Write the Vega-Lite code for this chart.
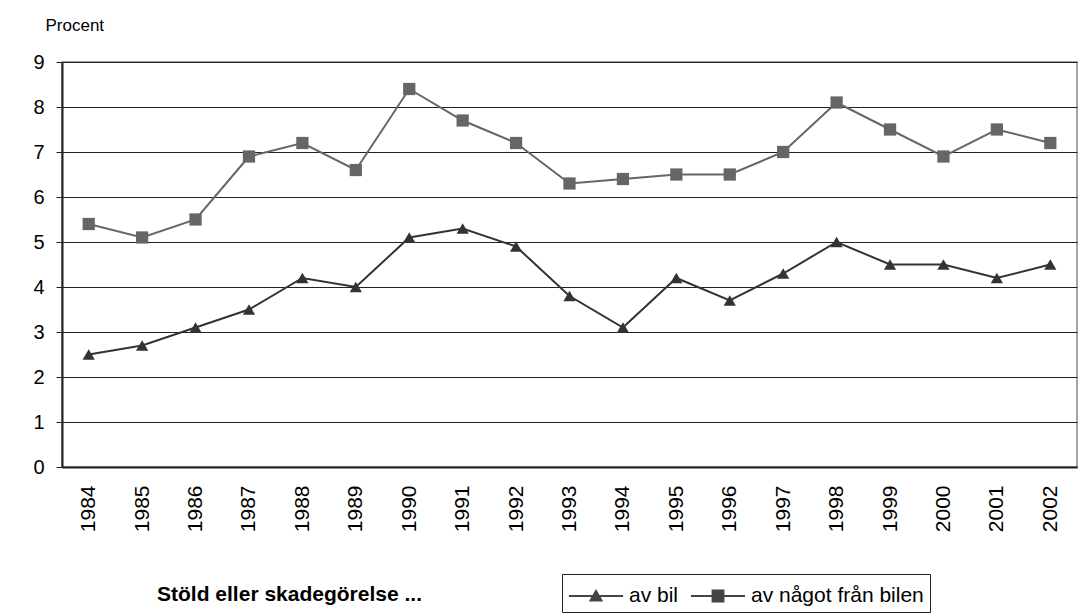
{
  "$schema": "https://vega.github.io/schema/vega-lite/v6.json",
  "autosize": {"type": "none"},
  "width": 1015,
  "height": 405,
  "padding": {"left": 62, "top": 62, "right": 3, "bottom": 146},
  "background": "white",
  "config": {
    "font": "Liberation Sans",
    "view": {"stroke": "#888", "strokeWidth": 1.5},
    "axis": {"labelFont": "Liberation Sans", "titleFont": "Liberation Sans"},
    "legend": {
      "title": null, "orient": "none", "direction": "horizontal",
      "legendX": 500, "legendY": 512,
      "strokeColor": "#222", "padding": 6,
      "labelFontSize": 21, "labelColor": "#000", "labelFont": "Liberation Sans", "labelLimit": 400,
      "symbolSize": 1024, "symbolOffset": 12, "labelOffset": 17, "columnPadding": 11,
      "symbolStrokeWidth": 0
    }
  },
  "data": {
    "values": [
      {"year": "1984", "serie": "av bil", "value": 2.5},
      {"year": "1985", "serie": "av bil", "value": 2.7},
      {"year": "1986", "serie": "av bil", "value": 3.1},
      {"year": "1987", "serie": "av bil", "value": 3.5},
      {"year": "1988", "serie": "av bil", "value": 4.2},
      {"year": "1989", "serie": "av bil", "value": 4.0},
      {"year": "1990", "serie": "av bil", "value": 5.1},
      {"year": "1991", "serie": "av bil", "value": 5.3},
      {"year": "1992", "serie": "av bil", "value": 4.9},
      {"year": "1993", "serie": "av bil", "value": 3.8},
      {"year": "1994", "serie": "av bil", "value": 3.1},
      {"year": "1995", "serie": "av bil", "value": 4.2},
      {"year": "1996", "serie": "av bil", "value": 3.7},
      {"year": "1997", "serie": "av bil", "value": 4.3},
      {"year": "1998", "serie": "av bil", "value": 5.0},
      {"year": "1999", "serie": "av bil", "value": 4.5},
      {"year": "2000", "serie": "av bil", "value": 4.5},
      {"year": "2001", "serie": "av bil", "value": 4.2},
      {"year": "2002", "serie": "av bil", "value": 4.5},
      {"year": "1984", "serie": "av något från bilen", "value": 5.4},
      {"year": "1985", "serie": "av något från bilen", "value": 5.1},
      {"year": "1986", "serie": "av något från bilen", "value": 5.5},
      {"year": "1987", "serie": "av något från bilen", "value": 6.9},
      {"year": "1988", "serie": "av något från bilen", "value": 7.2},
      {"year": "1989", "serie": "av något från bilen", "value": 6.6},
      {"year": "1990", "serie": "av något från bilen", "value": 8.4},
      {"year": "1991", "serie": "av något från bilen", "value": 7.7},
      {"year": "1992", "serie": "av något från bilen", "value": 7.2},
      {"year": "1993", "serie": "av något från bilen", "value": 6.3},
      {"year": "1994", "serie": "av något från bilen", "value": 6.4},
      {"year": "1995", "serie": "av något från bilen", "value": 6.5},
      {"year": "1996", "serie": "av något från bilen", "value": 6.5},
      {"year": "1997", "serie": "av något från bilen", "value": 7.0},
      {"year": "1998", "serie": "av något från bilen", "value": 8.1},
      {"year": "1999", "serie": "av något från bilen", "value": 7.5},
      {"year": "2000", "serie": "av något från bilen", "value": 6.9},
      {"year": "2001", "serie": "av något från bilen", "value": 7.5},
      {"year": "2002", "serie": "av något från bilen", "value": 7.2}
    ]
  },
  "encoding": {
    "x": {
      "field": "year", "type": "ordinal",
      "scale": {"paddingInner": 0, "paddingOuter": 0, "align": 0.5},
      "axis": {
        "title": "Stöld eller skadegörelse ...",
        "titleFontWeight": "bold", "titleFontSize": 21, "titleColor": "#000",
        "titleX": 227, "titleY": 133, "titleAlign": "center", "titleBaseline": "alphabetic",
        "labelAngle": -90, "labelFontSize": 21, "labelColor": "#000",
        "labelPadding": 18, "ticks": false,
        "domainColor": "#222", "domainWidth": 2
      }
    },
    "y": {
      "field": "value", "type": "quantitative",
      "scale": {"domain": [0, 9], "nice": false},
      "axis": {
        "title": "Procent", "titleAngle": 0, "titleFontSize": 17, "titleFontWeight": "normal",
        "titleColor": "#000", "titleAlign": "left", "titleBaseline": "alphabetic",
        "titleX": -17, "titleY": -32,
        "values": [0, 1, 2, 3, 4, 5, 6, 7, 8, 9],
        "labelFontSize": 20, "labelColor": "#000", "labelPadding": 12,
        "tickSize": 6, "tickColor": "#222",
        "domainColor": "#222", "domainWidth": 2,
        "grid": true, "gridColor": "#222", "gridWidth": 1
      }
    },
    "color": {
      "field": "serie", "type": "nominal",
      "scale": {"domain": ["av bil", "av något från bilen"], "range": ["#333333", "#666666"]},
      "legend": null
    }
  },
  "layer": [
    {
      "mark": {"type": "line", "strokeWidth": 2}
    },
    {
      "mark": {"type": "point", "filled": true, "opacity": 1, "size": 150},
      "encoding": {
        "shape": {
          "field": "serie", "type": "nominal",
          "scale": {"domain": ["av bil", "av något från bilen"], "range": ["triangle-up", "square"]},
          "legend": null
        }
      }
    },
    {
      "transform": [{"filter": "false"}],
      "mark": {"type": "point", "filled": true, "opacity": 1, "size": 1024, "color": "#444444"},
      "encoding": {
        "color": null,
        "shape": {
          "field": "serie", "type": "nominal",
          "scale": {"domain": ["av bil", "av något från bilen"], "range": ["M-1.69,-0.06H1.69V0.06H-1.69ZM0,-0.44L0.45,0.34H-0.45Z", "M-1.69,-0.06H1.69V0.06H-1.69ZM-0.4,-0.4H0.4V0.4H-0.4Z"]}
        }
      }
    }
  ],
  "resolve": {"scale": {"shape": "independent"}, "legend": {"shape": "independent"}}
}
